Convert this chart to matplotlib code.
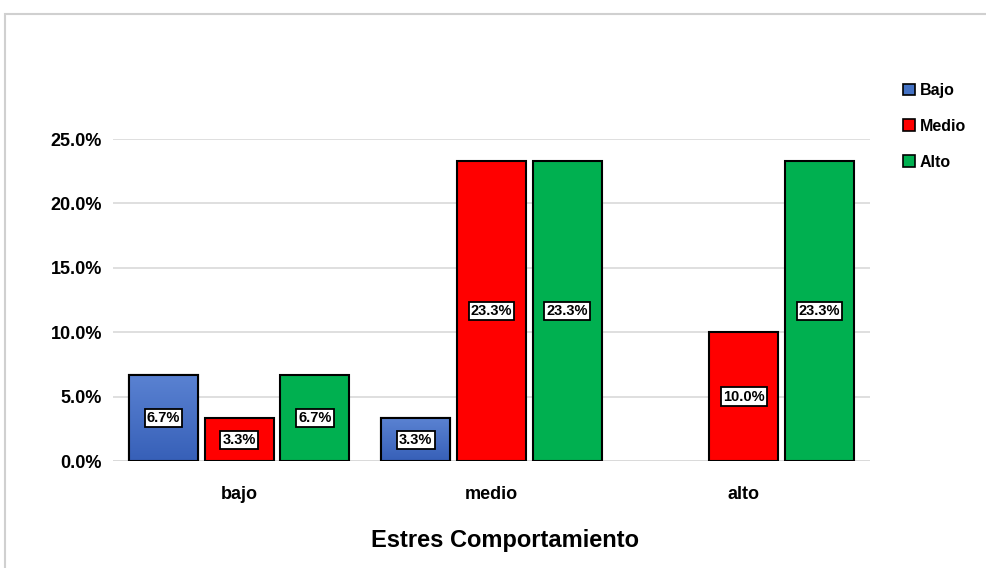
import numpy as np
import matplotlib.pyplot as plt
from matplotlib.patches import Rectangle
from matplotlib.colors import LinearSegmentedColormap

categories = ['bajo', 'medio', 'alto']
series = ['Bajo', 'Medio', 'Alto']
bajo_vals = [0.067, 0.033, 0.0]
medio_vals = [0.033, 0.233, 0.100]
alto_vals = [0.067, 0.233, 0.233]
colors = ['#4472C4', '#FF0000', '#00B050']

plt.rcParams['font.family'] = ['Liberation Sans', 'DejaVu Sans']

fig = plt.figure(figsize=(9.87, 5.68), dpi=100)
ax = fig.add_axes([113 / 987, 1 - 461 / 568, 757 / 987, 322 / 568])

# chart area frame
fig.patches.append(Rectangle((5 / 987, -0.1), 1.2, 1 - 14 / 568 + 0.1, transform=fig.transFigure,
                             fill=False, edgecolor='#d0d0d0', linewidth=1.5, zorder=0))

x = np.arange(len(categories))
width = 0.274
step = 0.3
blue_cmap = LinearSegmentedColormap.from_list('bl', ['#3760b8', '#5a82d2'])

for i, (name, vals, col) in enumerate(zip(series, [bajo_vals, medio_vals, alto_vals], colors)):
    pos = x + (i - 1) * step
    vals = np.array(vals)
    keep = vals > 0
    bars = ax.bar(pos[keep], vals[keep], width, color=col, edgecolor='black', linewidth=1.5,
                  zorder=3, label=name)
    for b, v in zip(bars, vals[keep]):
        if name == 'Bajo':
            # vertical shading on the blue bars
            grad = np.linspace(0, 1, 100).reshape(-1, 1)
            im = ax.imshow(grad, cmap=blue_cmap, aspect='auto', origin='lower',
                           extent=[b.get_x(), b.get_x() + b.get_width(), 0, v], zorder=3.5)
            im.set_clip_path(b)
            ax.bar(b.get_x() + b.get_width() / 2, v, width, fill=False, edgecolor='black',
                   linewidth=1.5, zorder=4)
        ax.text(b.get_x() + b.get_width() / 2, v / 2, f'{v * 100:.1f}%', ha='center', va='center',
                fontsize=10.5, fontweight='bold', zorder=6,
                bbox=dict(boxstyle='square,pad=0.15', facecolor='white', edgecolor='black', linewidth=1.3))

ax.set_xlim(-0.5, 2.5)
ax.set_ylim(0, 0.25)
ax.set_yticks(np.arange(0, 0.251, 0.05))
ax.set_yticklabels([f'{t * 100:.1f}%' for t in np.arange(0, 0.251, 0.05)], fontsize=13, fontweight='bold')
ax.set_xticks(x)
ax.set_xticklabels(categories, fontsize=13, fontweight='bold')
ax.tick_params(axis='x', length=0, pad=18)
ax.tick_params(axis='y', length=0, pad=8)
ax.grid(axis='y', color='#d9d9d9', linewidth=1.2, zorder=0)
ax.set_axisbelow(True)
for s in ax.spines.values():
    s.set_visible(False)
ax.axhline(0, color='#d9d9d9', linewidth=1.2, zorder=1)

fig.text(505 / 987, 1 - 540 / 568, 'Estres Comportamiento', ha='center', va='center',
         fontsize=17, fontweight='bold')

handles = [Rectangle((0, 0), 1, 1, facecolor=c, edgecolor='black', linewidth=1.2) for c in colors]
leg = fig.legend(handles, series, loc='upper left', bbox_to_anchor=(903 / 987, 1 - 83 / 568),
                 frameon=False, prop={'size': 11.5, 'weight': 'bold'}, handlelength=0.75,
                 handleheight=0.75, handletextpad=0.3, labelspacing=1.3, borderaxespad=0,
                 borderpad=0)

fig.savefig('out.png', dpi=100, facecolor='white')
